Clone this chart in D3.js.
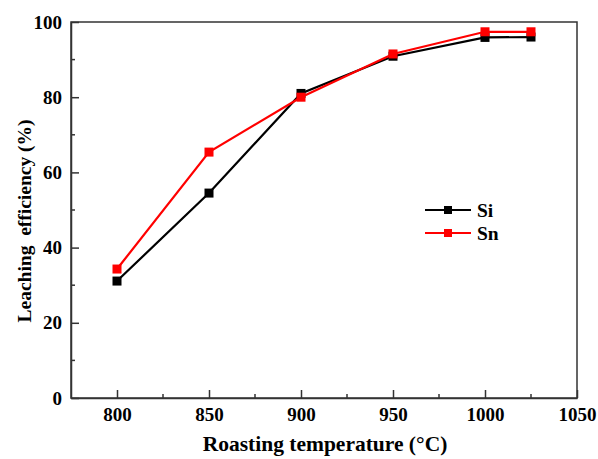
<!DOCTYPE html>
<html>
<head>
<meta charset="utf-8">
<script src="https://cdn.jsdelivr.net/npm/d3@7"></script>
<style>
  body { margin: 0; background: #fff; }
</style>
</head>
<body>
<svg id="chart" width="598" height="459"></svg>
<script>
// Leaching efficiency vs roasting temperature
const temperatures = [800, 850, 900, 950, 1000, 1025];
const siValues = [31.1, 54.5, 81.0, 90.9, 95.9, 96.0];
const snValues = [34.3, 65.4, 80.0, 91.5, 97.4, 97.4];
const xTicks = [800, 850, 900, 950, 1000, 1050];
const yTicks = [0, 20, 40, 60, 80, 100];

const series = [
  { name: "Si", values: siValues, color: "#000000" },
  { name: "Sn", values: snValues, color: "#ff0000" }
];

const FONT = "'Liberation Serif', 'DejaVu Serif', serif";
const svg = d3.select("#chart");
const margin = { left: 71, right: 21, top: 22, bottom: 61 };
const W = 598, H = 459;

const x = d3.scaleLinear().domain([775, 1050]).range([margin.left, W - margin.right]);
const y = d3.scaleLinear().domain([0, 100]).range([H - margin.bottom, margin.top]);

// frame
svg.append("rect")
  .attr("x", x.range()[0]).attr("y", y.range()[1])
  .attr("width", x.range()[1] - x.range()[0])
  .attr("height", y.range()[0] - y.range()[1])
  .attr("fill", "none").attr("stroke", "#333").attr("stroke-width", 1.5);

// x axis: major ticks inward
const xAxis = svg.append("g").attr("transform", `translate(0,${y(0)})`)
  .call(d3.axisBottom(x).tickValues(xTicks).tickSizeInner(-8).tickSizeOuter(0).tickPadding(10).tickFormat(d3.format("d")));
xAxis.attr("font-family", FONT);
xAxis.select(".domain").attr("stroke", "#333").attr("stroke-width", 1.5);
xAxis.selectAll(".tick line").attr("stroke", "#333").attr("stroke-width", 1.5);
xAxis.selectAll("text").attr("font-size", 19).attr("font-weight", "bold")
  .attr("font-family", FONT).attr("fill", "#000");

// x minor ticks
const xMinor = [825, 875, 925, 975, 1025];
svg.append("g").selectAll("line").data(xMinor).join("line")
  .attr("x1", d => x(d)).attr("x2", d => x(d))
  .attr("y1", y(0)).attr("y2", y(0) - 4)
  .attr("stroke", "#333").attr("stroke-width", 1.5);

// y axis
const yAxis = svg.append("g").attr("transform", `translate(${x(775)},0)`)
  .call(d3.axisLeft(y).tickValues(yTicks).tickSizeInner(-8).tickSizeOuter(0).tickPadding(9));
yAxis.attr("font-family", FONT);
yAxis.select(".domain").attr("stroke", "#333").attr("stroke-width", 1.5);
yAxis.selectAll(".tick line").attr("stroke", "#333").attr("stroke-width", 1.5);
yAxis.selectAll("text").attr("font-size", 19).attr("font-weight", "bold")
  .attr("font-family", FONT).attr("fill", "#000");

const yMinor = [10, 30, 50, 70, 90];
svg.append("g").selectAll("line").data(yMinor).join("line")
  .attr("x1", x(775)).attr("x2", x(775) + 4)
  .attr("y1", d => y(d)).attr("y2", d => y(d))
  .attr("stroke", "#333").attr("stroke-width", 1.5);

// axis titles
svg.append("text")
  .attr("x", 325).attr("y", 451)
  .attr("text-anchor", "middle").attr("font-size", 21.5)
  .attr("font-weight", "bold").attr("font-family", FONT)
  .text("Roasting temperature (\u00B0C)");

svg.append("text")
  .attr("transform", "translate(31,221) rotate(-90)")
  .attr("text-anchor", "middle").attr("font-size", 19.5)
  .attr("font-weight", "bold").attr("font-family", FONT)
  .attr("xml:space", "preserve").style("white-space", "pre")
  .text("Leaching  efficiency (%)");

// series lines and markers
const line = d3.line().x((d, i) => x(temperatures[i])).y(d => y(d));
series.forEach(s => {
  svg.append("path").datum(s.values)
    .attr("d", line).attr("fill", "none")
    .attr("stroke", s.color).attr("stroke-width", 2.2);
  svg.append("g").selectAll("rect").data(s.values).join("rect")
    .attr("x", (d, i) => x(temperatures[i]) - 4.5)
    .attr("y", d => y(d) - 4.5)
    .attr("width", 9).attr("height", 9)
    .attr("fill", s.color);
});

// legend
const legend = svg.append("g").attr("transform", "translate(425,210)");
series.forEach((s, i) => {
  const g = legend.append("g").attr("transform", `translate(0,${i * 23})`);
  g.append("line").attr("x1", 0).attr("x2", 46).attr("y1", 0).attr("y2", 0)
    .attr("stroke", s.color).attr("stroke-width", 2.2);
  g.append("rect").attr("x", 19).attr("y", -4).attr("width", 8).attr("height", 8).attr("fill", s.color);
  g.append("text").attr("x", 52).attr("y", 7).attr("font-size", 19.5)
    .attr("font-weight", "bold").attr("font-family", FONT).text(s.name);
});
</script>
</body>
</html>
